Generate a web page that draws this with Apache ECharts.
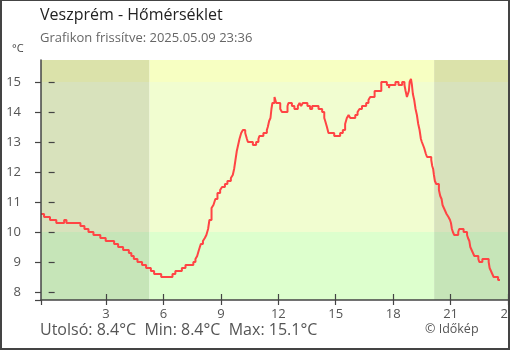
<!DOCTYPE html>
<html>
<head>
<meta charset="utf-8">
<script src="https://cdn.jsdelivr.net/npm/echarts@6/dist/echarts.min.js"></script>
<style>
  html, body { margin: 0; padding: 0; background: #fff; }
  #wrap { position: relative; width: 510px; height: 350px; }
  #chart { width: 510px; height: 350px; }
  #frame { position: absolute; left: 0; top: 0; width: 510px; height: 350px; box-sizing: border-box;
           border: 2px solid #444; border-top-width: 1px; pointer-events: none; }
</style>
</head>
<body>
<div id="wrap"><div id="chart"></div><div id="frame"></div></div>
<script>
// idő (óra, előző nap 23:36 = -0.4) és hőmérséklet (°C)
var hours = [
  -0.40, -0.24, 0.07, 0.40, 0.81, 0.93, 1.66, 1.87, 2.08, 2.34, 2.70, 2.98, 3.42, 3.63, 3.89,
  4.19, 4.32, 4.45, 4.64, 4.88, 5.09, 5.34, 5.51, 5.88, 6.47, 6.62, 6.96, 7.15, 7.56, 7.67,
  7.76, 7.85, 7.95, 8.06, 8.16, 8.24, 8.33, 8.40, 8.51, 8.61, 8.71, 8.82, 8.96, 9.06, 9.21,
  9.34, 9.52, 9.62, 9.69, 9.76, 9.83, 9.90, 9.97, 10.06, 10.15, 10.27, 10.36, 10.41, 10.67, 10.84,
  10.96, 11.01, 11.22, 11.40, 11.45, 11.52, 11.59, 11.64, 11.69, 11.80, 11.89, 12.10, 12.19, 12.48, 12.53,
  12.71, 12.84, 13.02, 13.11, 13.19, 13.28, 13.52, 13.66, 13.77, 14.10, 14.29, 14.40, 14.45, 14.54, 14.62,
  14.92, 15.23, 15.37, 15.49, 15.58, 15.67, 15.76, 16.02, 16.14, 16.24, 16.37, 16.59, 16.71, 16.80, 17.03,
  17.38, 17.67, 17.78, 17.81, 18.12, 18.28, 18.47, 18.59, 18.65, 18.72, 18.82, 18.86, 18.93, 18.98, 19.03,
  19.10, 19.17, 19.24, 19.31, 19.38, 19.45, 19.50, 19.56, 19.62, 19.71, 19.77, 19.99, 20.04, 20.09, 20.13,
  20.18, 20.25, 20.39, 20.46, 20.53, 20.58, 20.65, 20.72, 20.79, 20.89, 20.97, 21.02, 21.07, 21.12, 21.19,
  21.40, 21.45, 21.68, 21.86, 21.91, 21.98, 22.03, 22.10, 22.17, 22.24, 22.45, 22.50, 22.66, 22.99, 23.04,
  23.11, 23.18, 23.25, 23.48, 23.58
];
var temps = [
  10.6, 10.5, 10.4, 10.3, 10.4, 10.3, 10.2, 10.1, 10.0, 9.9, 9.8, 9.7, 9.6, 9.5, 9.4,
  9.3, 9.2, 9.1, 9.0, 8.9, 8.8, 8.7, 8.6, 8.5, 8.6, 8.7, 8.8, 8.9, 9.0, 9.1,
  9.2, 9.4, 9.6, 9.7, 9.8, 9.9, 10.1, 10.4, 10.8, 10.9, 11.1, 11.3, 11.4, 11.5, 11.6,
  11.7, 11.8, 11.9, 12.1, 12.4, 12.7, 12.9, 13.1, 13.3, 13.4, 13.3, 13.1, 13.0, 12.9, 13.0,
  13.1, 13.2, 13.3, 13.4, 13.5, 13.7, 13.8, 14.1, 14.3, 14.5, 14.3, 14.1, 14.0, 14.2, 14.3,
  14.2, 14.1, 14.2, 14.3, 14.2, 14.3, 14.2, 14.1, 14.2, 14.1, 14.0, 13.8, 13.7, 13.5, 13.3,
  13.2, 13.3, 13.4, 13.6, 13.8, 13.9, 13.8, 13.9, 14.0, 14.1, 14.2, 14.3, 14.4, 14.5, 14.7,
  15.0, 14.9, 14.8, 14.9, 15.0, 14.9, 15.0, 14.9, 14.7, 14.5, 14.7, 15.0, 15.1, 14.9, 14.6,
  14.4, 14.1, 13.9, 13.6, 13.4, 13.1, 13.0, 12.9, 12.8, 12.6, 12.5, 12.4, 12.2, 12.1, 11.9,
  11.7, 11.6, 11.4, 11.2, 11.1, 10.9, 10.8, 10.7, 10.6, 10.5, 10.4, 10.3, 10.1, 10.0, 9.9,
  10.0, 10.1, 10.0, 9.9, 9.8, 9.7, 9.5, 9.4, 9.3, 9.2, 9.1, 9.0, 9.1, 9.0, 8.8,
  8.7, 8.6, 8.5, 8.4, 8.4
];
var xTicks = [3, 6, 9, 12, 15, 18, 21, 24];
var yTicks = [8, 9, 10, 11, 12, 13, 14, 15];
var xMin = -0.4, xMax = 24;
var yMin = 7.7333, yMax = 15.7333;
var sunrise = 5.27, sunset = 20.14;   // napkelte / napnyugta (óra)
var warmLimit = 15, coolLimit = 10;   // sávhatárok (°C)

var TITLE = "Veszprém - Hőmérséklet";
var SUBTITLE = "Grafikon frissítve: 2025.05.09 23:36";

var FONT = "Open Sans";
var AX = "#444";

function r1(v){ return v.toFixed(1); }
var last = temps[temps.length-1];
var tmin = Math.min.apply(null, temps), tmax = Math.max.apply(null, temps);
var footer = "Utolsó: " + r1(last) + "°C  Min: " + r1(tmin) + "°C  Max: " + r1(tmax) + "°C";

var lineData = hours.map(function(h, i){ return [h, temps[i]]; });

// háttérsávok: éjszaka sötétebb, nappal világosabb
function band(x0, x1, y0, y1, col){ return [{ xAxis: x0, yAxis: y0, itemStyle: { color: col } }, { xAxis: x1, yAxis: y1 }]; }
var areas = [
  band(xMin, sunrise, warmLimit, yMax, "#dbe2aa"),
  band(xMin, sunrise, coolLimit, warmLimit, "#d8e2bc"),
  band(xMin, sunrise, yMin, coolLimit, "#c6e5b8"),
  band(sunrise, sunset, warmLimit, yMax, "#f7ffc2"),
  band(sunrise, sunset, coolLimit, warmLimit, "#f1fdd0"),
  band(sunrise, sunset, yMin, coolLimit, "#ddffcd"),
  band(sunset, xMax, warmLimit, yMax, "#dbe2aa"),
  band(sunset, xMax, coolLimit, warmLimit, "#d8e2bc"),
  band(sunset, xMax, yMin, coolLimit, "#c6e5b8")
];

var chart = echarts.init(document.getElementById("chart"), null, { renderer: "canvas" });
chart.setOption({
  animation: false,
  textStyle: { fontFamily: FONT },
  grid: { left: 41, right: 2, top: 60, bottom: 50, containLabel: false, outerBoundsMode: "none" },
  graphic: [
    { type: "text", left: 40, top: 7, style: { text: TITLE, font: "16px '" + FONT + "'", fill: "#222" } },
    { type: "text", left: 40, top: 32, style: { text: SUBTITLE, font: "13px '" + FONT + "'", fill: "#666" } },
    { type: "text", left: 12, top: 43, style: { text: "°C", font: "11px '" + FONT + "'", fill: "#444" } },
    { type: "text", left: 40, top: 322, style: { text: footer, font: "16px '" + FONT + "'", fill: "#555" } },
    { type: "text", left: 425, top: 323, style: { text: "© Időkép", font: "12.5px '" + FONT + "'", fill: "#555" } }
  ],
  xAxis: [
    { type: "value", min: xMin, max: xMax, position: "bottom", z: 5,
      axisLine: { show: true, onZero: false, lineStyle: { color: AX, width: 1.5 } },
      axisTick: { show: true, length: 5, customValues: [xMin].concat(xTicks), lineStyle: { color: AX, width: 1.2 } },
      axisLabel: { customValues: xTicks, margin: 8, fontSize: 13, color: "#555", fontFamily: FONT },
      splitLine: { show: false } },
    { type: "value", min: xMin, max: xMax, position: "bottom", z: 5,
      axisLine: { show: false },
      axisTick: { show: true, inside: true, length: 6, customValues: xTicks, lineStyle: { color: AX, width: 1.2 } },
      axisLabel: { show: false }, splitLine: { show: false } }
  ],
  yAxis: [
    { type: "value", min: yMin, max: yMax, position: "left", z: 5,
      axisLine: { show: true, onZero: false, lineStyle: { color: AX, width: 1.5 } },
      axisTick: { show: true, length: 6, customValues: [yMin].concat(yTicks), lineStyle: { color: AX, width: 1.2 } },
      axisLabel: { customValues: yTicks, margin: 20, fontSize: 13, color: "#555", fontFamily: FONT },
      splitLine: { show: false } },
    { type: "value", min: yMin, max: yMax, position: "left", z: 5,
      axisLine: { show: false },
      axisTick: { show: true, inside: true, length: 6, customValues: yTicks, lineStyle: { color: AX, width: 1.2 } },
      axisLabel: { show: false }, splitLine: { show: false } }
  ],
  series: [
    { type: "line", z: 1, data: [lineData[0]], symbol: "none", lineStyle: { opacity: 0 }, silent: true,
      markArea: { silent: true, data: areas } },
    { type: "line", z: 3, data: lineData, step: "end", symbol: "none",
      lineStyle: { color: "#ff4444", width: 2 } }
  ]
});
</script>
</body>
</html>
